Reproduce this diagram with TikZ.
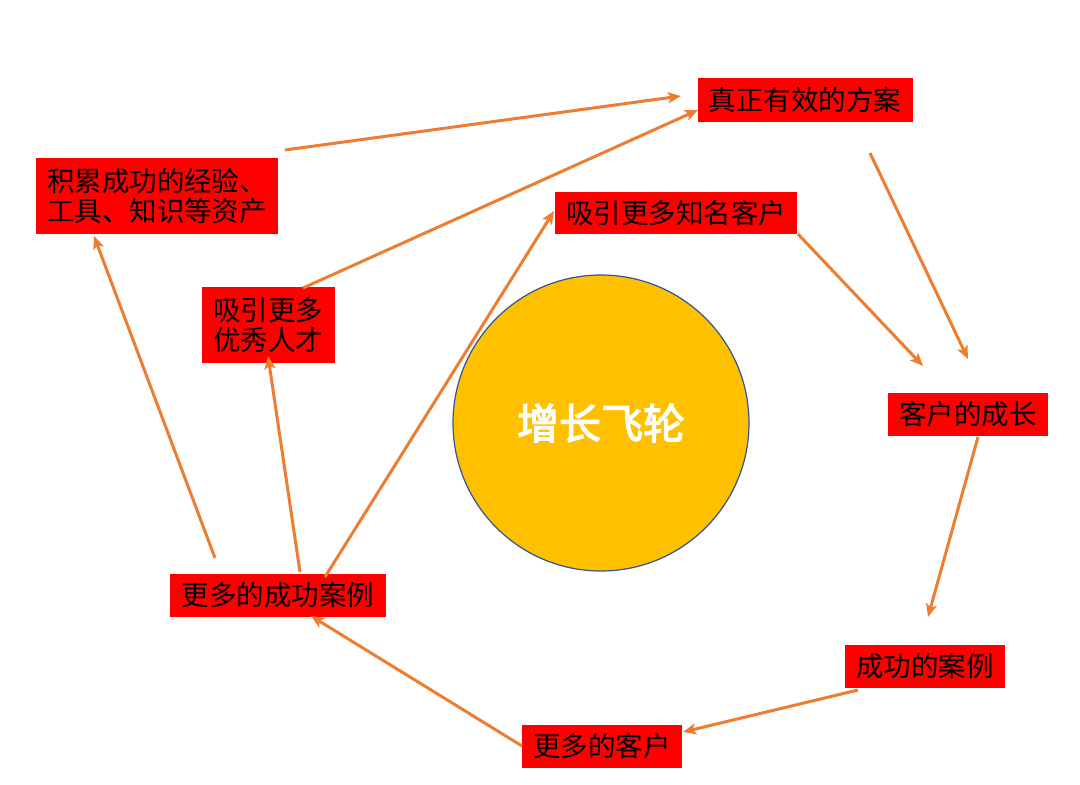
\documentclass[tikz,border=0pt]{standalone}
\usepackage{fontspec}
\usetikzlibrary{arrows.meta}
\newfontfamily\cjk{Noto Sans CJK SC}
\newfontfamily\cjkbold{Noto Sans CJK SC}[FakeBold=3]
\definecolor{boxred}{HTML}{FF0000}
\definecolor{arrorange}{HTML}{ED7D31}
\definecolor{wheel}{HTML}{FFC000}
\definecolor{wheeledge}{HTML}{2F5597}
\tikzset{
  redbox/.style={fill=boxred, draw=none, inner sep=0pt, align=left,
    font=\cjk\fontsize{27.5}{30}\selectfont, text=black},
  flow/.style={draw=arrorange, line width=3pt,
    -{Stealth[length=13pt,width=11pt,inset=3pt]}},
}
\begin{document}
\begin{tikzpicture}[x=1pt,y=-1pt]
\useasboundingbox (0,0) rectangle (1080,785);
% wheel
\node[circle, fill=wheel, draw=wheeledge, line width=1.2pt, minimum size=296pt,
  inner sep=0pt, font=\cjkbold\fontsize{42}{46}\selectfont, text=white] (wheel) at (601,423) {增长飞轮};
% boxes
\node[redbox, minimum width=215pt, minimum height=44pt] (plan) at (805,100) {真正有效的方案};
\node[redbox, text width=220pt, inner xsep=11pt, minimum height=76pt] (accum) at (157,196) {积累成功的经验、\\工具、知识等资产};
\node[redbox, minimum width=242pt, minimum height=42pt] (famous) at (676,213) {吸引更多知名客户};
\node[redbox, minimum width=133pt, minimum height=76pt] (talent) at (268,325) {吸引更多\\优秀人才};
\node[redbox, minimum width=160pt, minimum height=43pt] (growth) at (968,414) {客户的成长};
\node[redbox, minimum width=216pt, minimum height=43pt] (morecases) at (278,595) {更多的成功案例};
\node[redbox, minimum width=160pt, minimum height=43pt] (cases) at (925,666) {成功的案例};
\node[redbox, minimum width=160pt, minimum height=43pt] (moreclients) at (602,746) {更多的客户};
% connector ends
\coordinate (a1s) at (285,150);  \coordinate (a1e) at (681,96);
\coordinate (a2s) at (303,288);  \coordinate (a2e) at (698,110);
\coordinate (a3s) at (870,153);  \coordinate (a3e) at (968,359);
\coordinate (a4s) at (798,234);  \coordinate (a4e) at (923,366);
\coordinate (a5s) at (978,437);  \coordinate (a5e) at (928,617);
\coordinate (a6s) at (858,690);  \coordinate (a6e) at (683,732);
\coordinate (a7s) at (522,746);  \coordinate (a7e) at (311,616);
\coordinate (a8s) at (215,558);  \coordinate (a8e) at (94,236);
\coordinate (a9s) at (300,572);  \coordinate (a9e) at (268,356);
\coordinate (a10s) at (325,577); \coordinate (a10e) at (554,211);
% connectors
\draw[flow] (a1s) -- (a1e);
\draw[flow] (a2s) -- (a2e);
\draw[flow] (a3s) -- (a3e);
\draw[flow] (a4s) -- (a4e);
\draw[flow] (a5s) -- (a5e);
\draw[flow] (a6s) -- (a6e);
\draw[flow] (a7s) -- (a7e);
\draw[flow] (a8s) -- (a8e);
\draw[flow] (a9s) -- (a9e);
\draw[flow] (a10s) -- (a10e);
\end{tikzpicture}
\end{document}
